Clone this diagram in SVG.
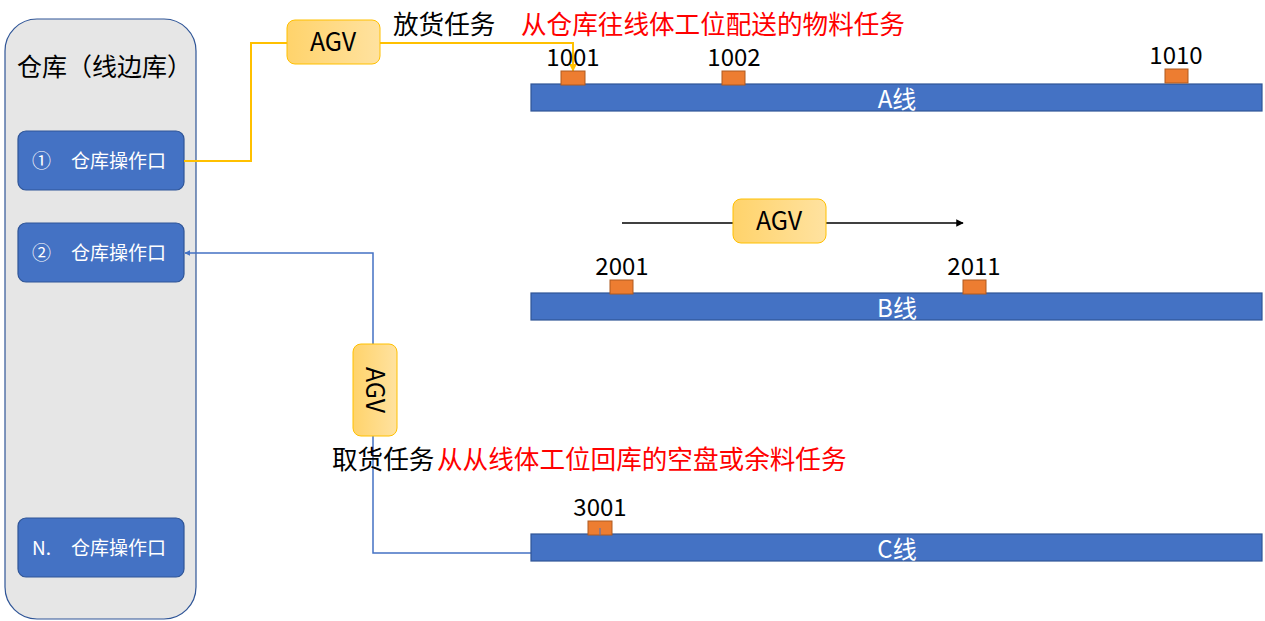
<svg xmlns="http://www.w3.org/2000/svg" width="1265" height="621" viewBox="0 0 1265 621">
<defs>
<style>
text{font-family:"Noto Sans CJK SC","Liberation Sans",sans-serif;}
.port{fill:#4472c4;stroke:#2f5597;stroke-width:1.2;}
.portt{fill:#ffffff;font-size:19px;}
.line{fill:#4472c4;stroke:#2f5597;stroke-width:1.2;}
.linet{fill:#ffffff;font-size:24px;text-anchor:middle;}
.st{fill:#ed7d31;stroke:#ae5a21;stroke-width:1;}
.num{fill:#000;font-size:24px;text-anchor:middle;}
.agv{fill:url(#ag);stroke:#ffc000;stroke-width:1;}
.agvt{fill:#000;font-size:25px;text-anchor:middle;}
.lbl{font-size:25.6px;}
</style>
<linearGradient id="ag" x1="0" y1="0" x2="1" y2="0">
<stop offset="0" stop-color="#ffd36b"/><stop offset="1" stop-color="#ffe2a0"/>
</linearGradient>
<marker id="ay" viewBox="0 0 10 10" refX="9" refY="5" markerWidth="4" markerHeight="4" orient="auto"><path d="M0,0L10,5L0,10z" fill="#ffc000"/></marker>
<marker id="ab" viewBox="0 0 10 10" refX="9" refY="5" markerWidth="4" markerHeight="4" orient="auto"><path d="M0,0L10,5L0,10z" fill="#4472c4"/></marker>
<marker id="ak" viewBox="0 0 10 10" refX="9" refY="5" markerWidth="5" markerHeight="5" orient="auto"><path d="M0,0L10,5L0,10z" fill="#000"/></marker>
</defs>
<rect width="1265" height="621" fill="#ffffff"/>

<g id="warehouse">
<rect x="5" y="19" width="191" height="600" rx="32" fill="#e6e6e6" stroke="#2f5597" stroke-width="1.2"/>
<text x="17" y="76" font-size="25" fill="#000">仓库（线边库）</text>
</g>
<g id="port1"><rect class="port" x="18" y="131" width="166" height="59" rx="8"/><text class="portt" x="32" y="168">①</text><text class="portt" x="71" y="168">仓库操作口</text></g>
<g id="port2"><rect class="port" x="18" y="223" width="166" height="59" rx="8"/><text class="portt" x="32" y="260">②</text><text class="portt" x="71" y="260">仓库操作口</text></g>
<g id="portN"><rect class="port" x="18" y="518" width="166" height="59" rx="8"/><text class="portt" x="32" y="555">N.</text><text class="portt" x="71" y="555">仓库操作口</text></g>

<g id="connectors" fill="none">
<polyline points="184,161 251,161 251,43 287,43" stroke="#ffc000" stroke-width="2"/>
<polyline points="380,43 573,43 573,71" stroke="#ffc000" stroke-width="2" marker-end="url(#ay)"/>
<polyline points="531,553 373,553 373,436" stroke="#4472c4" stroke-width="1.5"/>
<polyline points="373,344 373,253 185,253" stroke="#4472c4" stroke-width="1.5" marker-end="url(#ab)"/>
<line x1="622" y1="223" x2="733" y2="223" stroke="#000" stroke-width="1.5"/>
<line x1="826" y1="223" x2="963" y2="223" stroke="#000" stroke-width="1.5" marker-end="url(#ak)"/>
</g>

<g id="lineA">
<rect class="line" x="531" y="84" width="731" height="27"/>
<text class="linet" x="897" y="108">A线</text>
</g>
<g id="st1001"><rect class="st" x="561" y="71" width="24" height="14"/><text class="num" x="573" y="66">1001</text></g>
<g id="st1002"><rect class="st" x="722" y="71" width="23" height="14"/><text class="num" x="734" y="66">1002</text></g>
<g id="st1010"><rect class="st" x="1165" y="69" width="23" height="14"/><text class="num" x="1176" y="64">1010</text></g>

<g id="lineB">
<rect class="line" x="531" y="293" width="731" height="27"/>
<text class="linet" x="897" y="317">B线</text>
</g>
<g id="st2001"><rect class="st" x="610" y="280" width="23" height="14"/><text class="num" x="622" y="275">2001</text></g>
<g id="st2011"><rect class="st" x="963" y="280" width="23" height="14"/><text class="num" x="974" y="275">2011</text></g>

<g id="lineC">
<rect class="line" x="531" y="534" width="731" height="27"/>
<text class="linet" x="897" y="558">C线</text>
</g>
<g id="st3001"><rect class="st" x="588" y="521" width="24" height="14"/><line x1="600" y1="528" x2="600" y2="535" stroke="#4472c4" stroke-width="1"/><text class="num" x="600" y="516">3001</text></g>

<g id="agv1"><rect class="agv" x="287" y="20" width="93" height="44" rx="8"/><text class="agvt" x="333" y="51">AGV</text></g>
<g id="agv2"><rect class="agv" x="733" y="199" width="93" height="44" rx="8"/><text class="agvt" x="779" y="230">AGV</text></g>
<g id="agv3"><rect class="agv" x="353" y="344" width="44" height="92" rx="8"/><text class="agvt" transform="translate(366,390) rotate(90)">AGV</text></g>

<g id="labels">
<text class="lbl" x="393" y="34" fill="#000">放货任务</text>
<text class="lbl" x="521" y="34" fill="#ff0000">从仓库往线体工位配送的物料任务</text>
<text class="lbl" x="332" y="469" fill="#000">取货任务</text>
<text class="lbl" x="437" y="469" fill="#ff0000">从从线体工位回库的空盘或余料任务</text>
</g>
</svg>
